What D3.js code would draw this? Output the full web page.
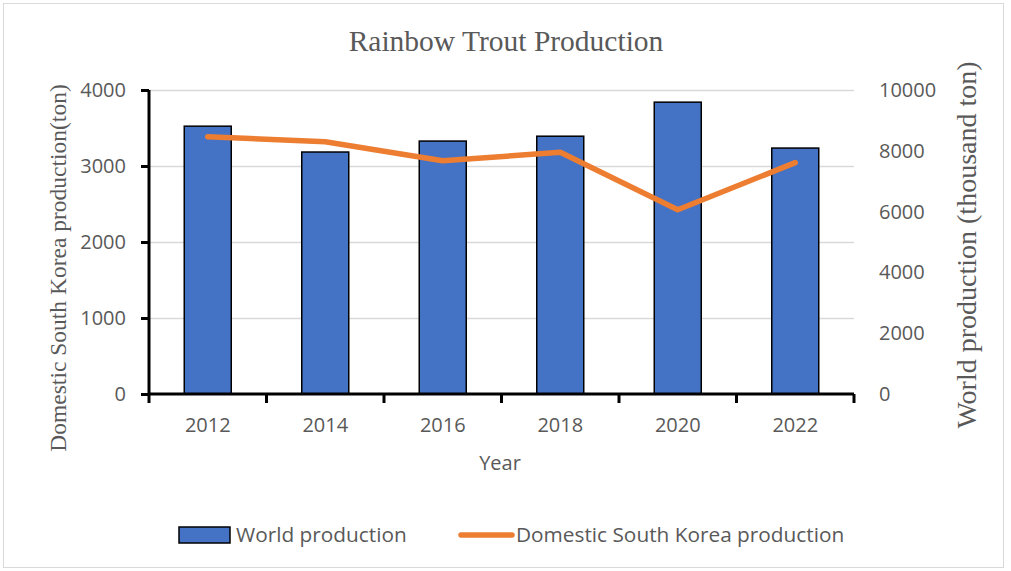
<!DOCTYPE html>
<html>
<head>
<meta charset="utf-8">
<script src="https://cdn.jsdelivr.net/npm/d3@7"></script>
<style>
  body { margin: 0; background: #fff; }
  .tick text { font-family: "Open Sans", sans-serif; fill: #595959; }
</style>
</head>
<body>
<div id="chart"></div>
<script>
// Chart data
var years = ["2012", "2014", "2016", "2018", "2020", "2022"];
var worldProduction = [8810, 7960, 8320, 8480, 9600, 8090];      // thousand ton (right axis, bars)
var domesticProduction = [3385, 3320, 3070, 3180, 2425, 3045];  // ton (left axis, line)
var leftTicks = [0, 1000, 2000, 3000, 4000];
var rightTicks = [0, 2000, 4000, 6000, 8000, 10000];

var svgWidth = 1011;
var svgHeight = 571;

var margin = { top: 90, right: 157, bottom: 177, left: 149 };
var chartWidth = svgWidth - margin.left - margin.right;
var chartHeight = svgHeight - margin.top - margin.bottom;

var svg = d3.select("#chart")
  .append("svg")
  .attr("width", svgWidth)
  .attr("height", svgHeight);

// outer frame
svg.append("rect")
  .attr("x", 3.5).attr("y", 3.5)
  .attr("width", 1000).attr("height", 564)
  .attr("fill", "none")
  .attr("stroke", "#d9d9d9");

var chartGroup = svg.append("g")
  .attr("transform", `translate(${margin.left}, ${margin.top})`);

var xScale = d3.scaleBand()
  .domain(years)
  .range([0, chartWidth])
  .paddingInner(0.6)
  .paddingOuter(0.3);

var yLeft = d3.scaleLinear().domain([0, 4000]).range([chartHeight, 0]);
var yRight = d3.scaleLinear().domain([0, 10000]).range([chartHeight, 0]);

// gridlines
var yGrid = d3.axisLeft(yLeft).tickValues(leftTicks.slice(1)).tickSize(-chartWidth).tickFormat("");
chartGroup.append("g")
  .call(yGrid)
  .call(g => g.select(".domain").remove())
  .call(g => g.selectAll("line").attr("stroke", "#d9d9d9").attr("stroke-width", 1.5));

// bars (world production, right axis)
chartGroup.selectAll("rect.bar")
  .data(years)
  .enter()
  .append("rect")
  .attr("class", "bar")
  .attr("x", d => xScale(d))
  .attr("width", xScale.bandwidth())
  .attr("y", (d, i) => yRight(worldProduction[i]))
  .attr("height", (d, i) => chartHeight - yRight(worldProduction[i]))
  .attr("fill", "#4472c4")
  .attr("stroke", "#000")
  .attr("stroke-width", 1.5);

// line (domestic, left axis)
var drawLine = d3.line()
  .x((d, i) => xScale(years[i]) + xScale.bandwidth() / 2)
  .y(d => yLeft(d));

chartGroup.append("path")
  .attr("d", drawLine(domesticProduction))
  .attr("fill", "none")
  .attr("stroke", "#ed7d31")
  .attr("stroke-width", 5.5)
  .attr("stroke-linecap", "round")
  .attr("stroke-linejoin", "round");

// left axis
var leftAxis = d3.axisLeft(yLeft).tickValues(leftTicks).tickFormat(d3.format("d")).tickSize(8).tickPadding(15);
chartGroup.append("g")
  .call(leftAxis)
  .call(g => g.select(".domain").attr("stroke", "#000").attr("stroke-width", 3).attr("d", `M0,${chartHeight}V0`))
  .call(g => g.selectAll(".tick line").attr("stroke", "#000").attr("stroke-width", 3))
  .call(g => g.selectAll(".tick text").attr("font-size", "20px"));

// right axis (labels only)
var rightAxis = d3.axisRight(yRight).tickValues(rightTicks).tickFormat(d3.format("d")).tickSize(0).tickPadding(25);
chartGroup.append("g")
  .attr("transform", `translate(${chartWidth}, 0)`)
  .call(rightAxis)
  .call(g => g.select(".domain").remove())
  .call(g => g.selectAll(".tick text").attr("font-size", "20px"));

// bottom axis: ticks between categories
var boundaries = d3.range(years.length + 1).map(i => i * xScale.step());
var bottom = chartGroup.append("g").attr("transform", `translate(0, ${chartHeight})`);
bottom.append("line")
  .attr("x1", 0).attr("x2", chartWidth)
  .attr("stroke", "#000").attr("stroke-width", 3);
bottom.selectAll("line.tk")
  .data(boundaries)
  .enter()
  .append("line")
  .attr("class", "tk")
  .attr("x1", d => d).attr("x2", d => d)
  .attr("y1", 0).attr("y2", 9)
  .attr("stroke", "#000").attr("stroke-width", 3);
bottom.selectAll("text.cat")
  .data(years)
  .enter()
  .append("text")
  .attr("class", "cat")
  .attr("x", d => xScale(d) + xScale.bandwidth() / 2)
  .attr("y", 38)
  .attr("text-anchor", "middle")
  .attr("font-family", "Open Sans, sans-serif")
  .attr("font-size", "20px")
  .attr("fill", "#595959")
  .text(d => d);

// titles
svg.append("text")
  .attr("x", 506).attr("y", 51)
  .attr("text-anchor", "middle")
  .attr("font-family", "Liberation Serif, serif")
  .attr("font-size", "29.5px")
  .attr("fill", "#595959")
  .text("Rainbow Trout Production");

svg.append("text")
  .attr("x", 500).attr("y", 470)
  .attr("text-anchor", "middle")
  .attr("font-family", "Open Sans, sans-serif")
  .attr("font-size", "20px")
  .attr("fill", "#595959")
  .text("Year");

svg.append("text")
  .attr("transform", "translate(66, 268) rotate(-90)")
  .attr("text-anchor", "middle")
  .attr("font-family", "Liberation Serif, serif")
  .attr("font-size", "23.5px")
  .attr("fill", "#595959")
  .text("Domestic South Korea production(ton)");

svg.append("text")
  .attr("transform", "translate(976, 245) rotate(-90)")
  .attr("text-anchor", "middle")
  .attr("font-family", "Liberation Serif, serif")
  .attr("font-size", "28px")
  .attr("fill", "#595959")
  .text("World production (thousand ton)");

// legend
var legend = svg.append("g");
legend.append("rect")
  .attr("x", 179).attr("y", 527)
  .attr("width", 51).attr("height", 16)
  .attr("fill", "#4472c4")
  .attr("stroke", "#000").attr("stroke-width", 1.5);
legend.append("text")
  .attr("x", 236).attr("y", 542)
  .attr("font-family", "Open Sans, sans-serif")
  .attr("font-size", "20.8px")
  .attr("fill", "#595959")
  .text("World production");
legend.append("line")
  .attr("x1", 461).attr("x2", 512)
  .attr("y1", 535).attr("y2", 535)
  .attr("stroke", "#ed7d31").attr("stroke-width", 5.5)
  .attr("stroke-linecap", "round");
legend.append("text")
  .attr("x", 516).attr("y", 542)
  .attr("font-family", "Open Sans, sans-serif")
  .attr("font-size", "20.8px")
  .attr("fill", "#595959")
  .text("Domestic South Korea production");
</script>
</body>
</html>
